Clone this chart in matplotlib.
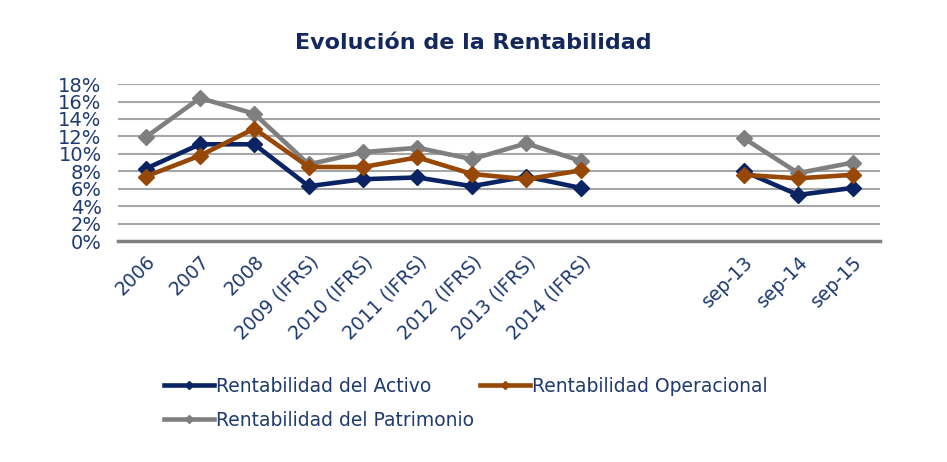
import matplotlib.pyplot as plt
import numpy as np

# datos (en %)
categorias = ["2006", "2007", "2008", "2009 (IFRS)", "2010 (IFRS)", "2011 (IFRS)",
              "2012 (IFRS)", "2013 (IFRS)", "2014 (IFRS)", "", "",
              "sep-13", "sep-14", "sep-15"]
activo = [8.3, 11.1, 11.1, 6.3, 7.1, 7.3, 6.3, 7.4, 6.1, np.nan, np.nan, 8.0, 5.3, 6.1]
operacional = [7.4, 9.8, 12.9, 8.5, 8.5, 9.6, 7.7, 7.1, 8.1, np.nan, np.nan, 7.6, 7.2, 7.6]
patrimonio = [11.9, 16.4, 14.6, 8.8, 10.2, 10.7, 9.4, 11.2, 9.2, np.nan, np.nan, 11.8, 7.8, 9.0]

azul = "#0A2463"
naranja = "#974806"
gris = "#7F7F7F"
texto = "#1F3A6E"

fig = plt.figure(figsize=(9.47, 4.62), dpi=100)
ax = fig.add_axes([0.125, 0.478, 0.804, 0.34])

x = np.arange(len(categorias))
l1, = ax.plot(x, activo, color=azul, lw=3.3, marker="D", ms=8, label="Rentabilidad del Activo", zorder=3)
l2, = ax.plot(x, operacional, color=naranja, lw=3.3, marker="D", ms=8, label="Rentabilidad Operacional", zorder=3)
l3, = ax.plot(x, patrimonio, color=gris, lw=3.3, marker="D", ms=8, label="Rentabilidad del Patrimonio", zorder=2)

ax.set_xlim(-0.5, len(categorias) - 0.5)
ax.set_ylim(0, 18)
ax.set_yticks(np.arange(0, 19, 2))
ax.set_yticklabels([f"{v}%" for v in range(0, 19, 2)], fontsize=14, color=texto)
ax.set_xticks(x)
ax.set_xticklabels(categorias, rotation=45, ha="right", rotation_mode="anchor",
                   fontsize=13.5, color=texto)
ax.tick_params(axis="y", length=0, pad=12)
ax.tick_params(axis="x", length=0, pad=8)
ax.grid(axis="y", color="#A6A6A6", lw=1.5)
ax.set_axisbelow(True)
for s in ["top", "right", "left"]:
    ax.spines[s].set_visible(False)
ax.spines["bottom"].set_color("#808080")
ax.spines["bottom"].set_linewidth(2.5)

fig.text(0.5, 0.907, "Evolución de la Rentabilidad", ha="center", va="center",
         fontsize=16, fontweight="bold", color="#14285C")

# orden para que quede: fila 1 Activo / Operacional, fila 2 Patrimonio
leg = fig.legend([l1, l3, l2], [l1.get_label(), l3.get_label(), l2.get_label()],
                 loc="lower left", bbox_to_anchor=(0.163, 0.05), ncol=2, frameon=False,
                 fontsize=13.5, handlelength=2.7, handletextpad=0.1, columnspacing=0.3,
                 labelspacing=0.8, markerscale=0.5, borderpad=0.0)
for t in leg.get_texts():
    t.set_color(texto)

fig.savefig("out.png", dpi=100)
